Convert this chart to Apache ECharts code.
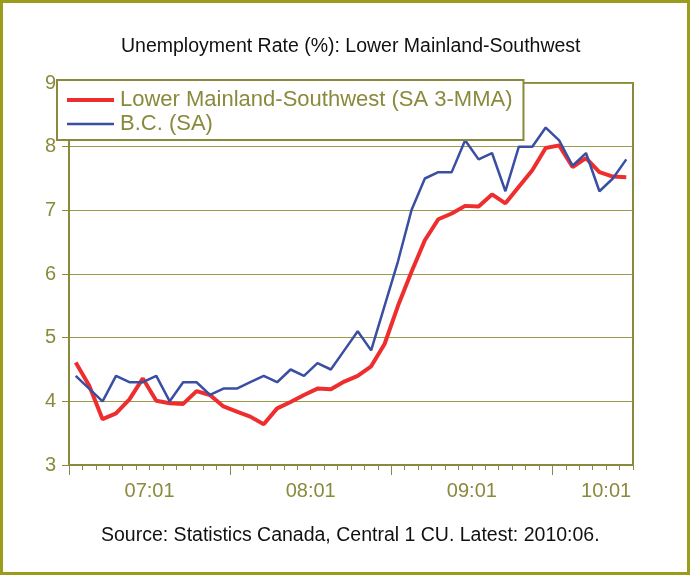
<!DOCTYPE html>
<html>
<head>
<meta charset="utf-8">
<script src="https://cdn.jsdelivr.net/npm/echarts@6/dist/echarts.min.js"></script>
<style>
html, body { margin: 0; padding: 0; background: #fff; }
#chart { width: 691px; height: 575px; }
</style>
</head>
<body>
<div id="chart"></div>
<script>
const months = [
  '07:01', '07:02', '07:03', '07:04', '07:05', '07:06', '07:07', '07:08', '07:09', '07:10', '07:11', '07:12',
  '08:01', '08:02', '08:03', '08:04', '08:05', '08:06', '08:07', '08:08', '08:09', '08:10', '08:11', '08:12',
  '09:01', '09:02', '09:03', '09:04', '09:05', '09:06', '09:07', '09:08', '09:09', '09:10', '09:11', '09:12',
  '10:01', '10:02', '10:03', '10:04', '10:05', '10:06',
]
const yearLabels = ['07:01', '08:01', '09:01', '10:01']

// Lower Mainland-Southwest, seasonally adjusted 3-month moving average
const lowerMainland = [
  4.61, 4.25, 3.72, 3.81, 4.03, 4.36, 4.01, 3.97, 3.96, 4.16, 4.10, 3.92,
  3.84, 3.76, 3.64, 3.89, 3.99, 4.10, 4.20, 4.19, 4.31, 4.40, 4.55, 4.90,
  5.50, 6.03, 6.53, 6.86, 6.95, 7.07, 7.06, 7.25, 7.11, 7.37, 7.63, 7.98,
  8.02, 7.68, 7.82, 7.60, 7.53, 7.52,
]
// B.C., seasonally adjusted
const bc = [
  4.4, 4.2, 4.0, 4.4, 4.3, 4.3, 4.4, 4.0, 4.3, 4.3, 4.1, 4.2,
  4.2, 4.3, 4.4, 4.3, 4.5, 4.4, 4.6, 4.5, 4.8, 5.1, 4.8, 5.5,
  6.2, 7.0, 7.5, 7.6, 7.6, 8.1, 7.8, 7.9, 7.3, 8.0, 8.0, 8.3,
  8.1, 7.7, 7.9, 7.3, 7.5, 7.8,
]

const olive = '#8a8a3c'
const red = '#ee2e2e'
const blue = '#3a4ea2'
const font = "'Liberation Sans', Arial, sans-serif"

// year labels sit in the middle of each year's block of months
const yearStarts = yearLabels.map((l) => months.indexOf(l))
const labelAnchors = yearStarts.map((i) => Math.min(i + 6, months.length - 2))

const chart = echarts.init(document.getElementById('chart'))
chart.setOption({
  backgroundColor: '#fff',
  animation: false,
  title: [
    {
      text: 'Unemployment Rate (%): Lower Mainland-Southwest',
      left: 116,
      top: 32,
      textStyle: { color: '#111', fontSize: 19.5, fontWeight: 'normal', fontFamily: font },
    },
    {
      text: 'Source: Statistics Canada, Central 1 CU. Latest: 2010:06.',
      left: 96,
      top: 521,
      textStyle: { color: '#111', fontSize: 19.5, fontWeight: 'normal', fontFamily: font },
    },
  ],
  graphic: [
    {
      type: 'rect',
      shape: { x: 1.5, y: 1.5, width: 687, height: 572 },
      style: { fill: null, stroke: '#9c9c1c', lineWidth: 3 },
      silent: true,
    },
  ],
  legend: {
    orient: 'vertical',
    left: 57,
    top: 80,
    data: [
      { name: 'Lower Mainland-Southwest (SA 3-MMA)', lineStyle: { color: red, width: 4 } },
      { name: 'B.C. (SA)', lineStyle: { color: blue, width: 2.5 } },
    ],
    itemWidth: 47,
    itemHeight: 14,
    itemGap: 2,
    padding: [9, 11, 5, 8],
    backgroundColor: '#fff',
    borderColor: olive,
    borderWidth: 2,
    itemStyle: { opacity: 0 },
    textStyle: { color: olive, fontSize: 22, lineHeight: 22, fontFamily: font, padding: [0, 0, 0, 1] },
  },
  grid: {
    left: 69,
    right: 58,
    top: 83,
    bottom: 110,
    show: true,
    borderColor: olive,
    borderWidth: 2,
  },
  xAxis: [
    {
      type: 'category',
      data: months,
      boundaryGap: true,
      axisLine: { lineStyle: { color: olive, width: 2 } },
      axisTick: { show: true, interval: 0, length: 5, lineStyle: { color: olive, width: 1 } },
      axisLabel: { show: false },
      splitLine: { show: false },
    },
    {
      type: 'value',
      min: 0,
      max: months.length,
      position: 'bottom',
      axisLine: { show: false },
      axisTick: {
        show: true,
        customValues: yearStarts,
        length: 10,
        lineStyle: { color: olive, width: 1 },
      },
      axisLabel: {
        customValues: labelAnchors,
        formatter: (v) => yearLabels[labelAnchors.indexOf(v)] || '',
        color: olive,
        fontSize: 20,
        fontFamily: font,
        margin: 16,
      },
      splitLine: { show: false },
    },
  ],
  yAxis: {
    type: 'value',
    min: 3,
    max: 9,
    interval: 1,
    axisLine: { show: true, lineStyle: { color: olive, width: 2 } },
    axisTick: { show: true, length: 7, lineStyle: { color: olive } },
    axisLabel: { color: olive, fontSize: 20, fontFamily: font, margin: 13 },
    splitLine: { lineStyle: { color: '#9a9a4a', width: 1 } },
  },
  series: [
    {
      name: 'Lower Mainland-Southwest (SA 3-MMA)',
      type: 'line',
      data: lowerMainland,
      symbol: 'none',
      lineStyle: { color: red, width: 4 },
      itemStyle: { color: red },
    },
    {
      name: 'B.C. (SA)',
      type: 'line',
      data: bc,
      symbol: 'none',
      lineStyle: { color: blue, width: 2.5 },
      itemStyle: { color: blue },
    },
  ],
})
</script>
</body>
</html>
